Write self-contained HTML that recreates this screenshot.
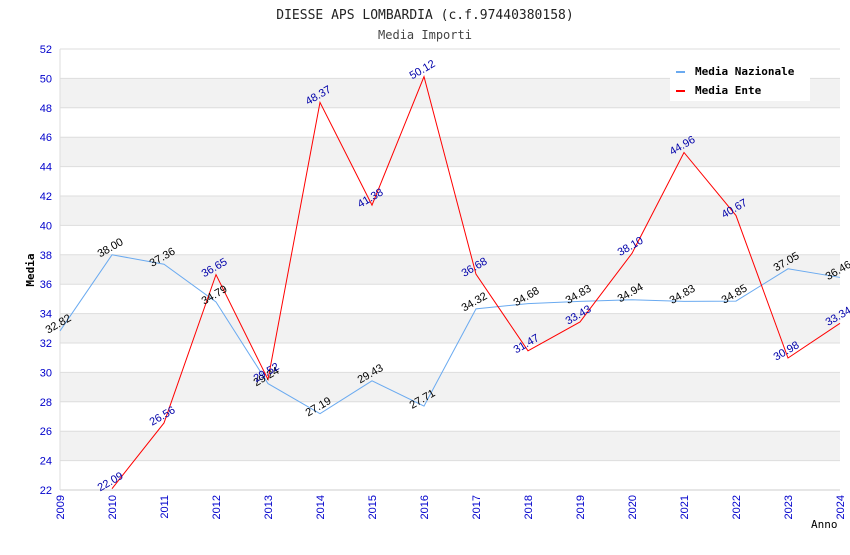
<!DOCTYPE html>
<html><head><meta charset="utf-8"><style>
body{margin:0;background:#fff;}
svg text{font-family:"DejaVu Sans Mono","Liberation Mono",monospace;}
svg text.sans{font-family:"Liberation Sans","DejaVu Sans",sans-serif;}
</style></head><body>
<svg id="chart" width="850" height="550" xmlns="http://www.w3.org/2000/svg">
<text x="425" y="19" text-anchor="middle" font-size="13" fill="#222">DIESSE APS LOMBARDIA (c.f.97440380158)</text>
<text x="425" y="39" text-anchor="middle" font-size="12" fill="#444">Media Importi</text>
<g id="bands"></g><g id="grid"></g><g id="axes"></g><g id="series"></g><g id="labels"></g>
<text x="34" y="270" transform="rotate(-90 34 270)" text-anchor="middle" font-size="11" font-weight="bold" fill="#000">Media</text>
<text x="811" y="528" font-size="11" fill="#000">Anno</text>
<g>
<rect x="670" y="58" width="140" height="43" fill="#fff"/>
<rect x="676" y="71" width="9" height="2" fill="#6aaaf0"/>
<text x="695" y="75" font-size="11" font-weight="bold" fill="#000">Media Nazionale</text>
<rect x="676" y="90" width="9" height="2" fill="#f00"/>
<text x="695" y="94" font-size="11" font-weight="bold" fill="#000">Media Ente</text>
</g>
</svg>
<script>
const years=[2009,2010,2011,2012,2013,2014,2015,2016,2017,2018,2019,2020,2021,2022,2023,2024];
const nazionale=[32.82,38.00,37.36,34.79,29.24,27.19,29.43,27.71,34.32,34.68,34.83,34.94,34.83,34.85,37.05,36.46];
const ente=[null,22.09,26.56,36.65,29.52,48.37,41.38,50.12,36.68,31.47,33.43,38.10,44.96,40.67,30.98,33.34];
const yTicks=[22,24,26,28,30,32,34,36,38,40,42,44,46,48,50,52];
const NS="http://www.w3.org/2000/svg";
const X0=60,X1=840,Y0=490,Y1=49,YMIN=22,YMAX=52;
const xs=y=>X0+(y-years[0])/(years[years.length-1]-years[0])*(X1-X0);
const ys=v=>Y0-(v-YMIN)/(YMAX-YMIN)*(Y0-Y1);
function mk(tag,attrs,parent){const e=document.createElementNS(NS,tag);for(const k in attrs)e.setAttribute(k,attrs[k]);document.getElementById(parent).appendChild(e);return e;}
for(let i=0;i<yTicks.length-1;i++){
 if(yTicks[i]%4===0){const b=mk('rect',{x:X0,y:ys(yTicks[i+1]),width:X1-X0,height:ys(yTicks[i])-ys(yTicks[i+1]),fill:'#f2f2f2'},'bands');
 
 }
}
yTicks.forEach(t=>{
 const l=mk('line',{x1:X0,x2:X1,y1:ys(t),y2:ys(t),stroke:'#ddd','stroke-width':1},'grid');
 
 
 const tx=mk('text',{x:X0-8,y:ys(t)+4,'text-anchor':'end','font-size':11,fill:'#00c',class:'sans'},'axes');
 tx.textContent=t;
 
 
});
years.forEach(y=>{
 const tx=mk('text',{x:xs(y),y:Y0+5,'text-anchor':'end','font-size':11,fill:'#00c',class:'sans',transform:`rotate(-90 ${xs(y)} ${Y0+5})`,dy:4},'axes');
 tx.textContent=y;
 
 
});
const ax=mk('line',{x1:X0,x2:X1,y1:Y0,y2:Y0,stroke:'#ccc'},'axes');


const ay=mk('line',{x1:X0,x2:X0,y1:Y1,y2:Y0,stroke:'#ddd'},'axes');


function series(data,color,lblColor,name){
 const pts=[];data.forEach((v,i)=>{if(v!==null)pts.push([xs(years[i]),ys(v),v]);});
 const p=mk('polyline',{points:pts.map(p=>p[0]+','+p[1]).join(' '),fill:'none',stroke:color,'stroke-width':1},'series');
 
 
 pts.forEach(q=>{
  const t=mk('text',{x:q[0],y:q[1]-4,'text-anchor':'middle','font-size':11,fill:lblColor,class:'sans',transform:`rotate(-30 ${q[0]} ${q[1]-4})`},'labels');
  t.textContent=q[2].toFixed(2);
  
  
 });
}
series(nazionale,'#6aaaf0','#000','nazionale');
series(ente,'#f00','#00a','ente');
</script>
</body></html>
